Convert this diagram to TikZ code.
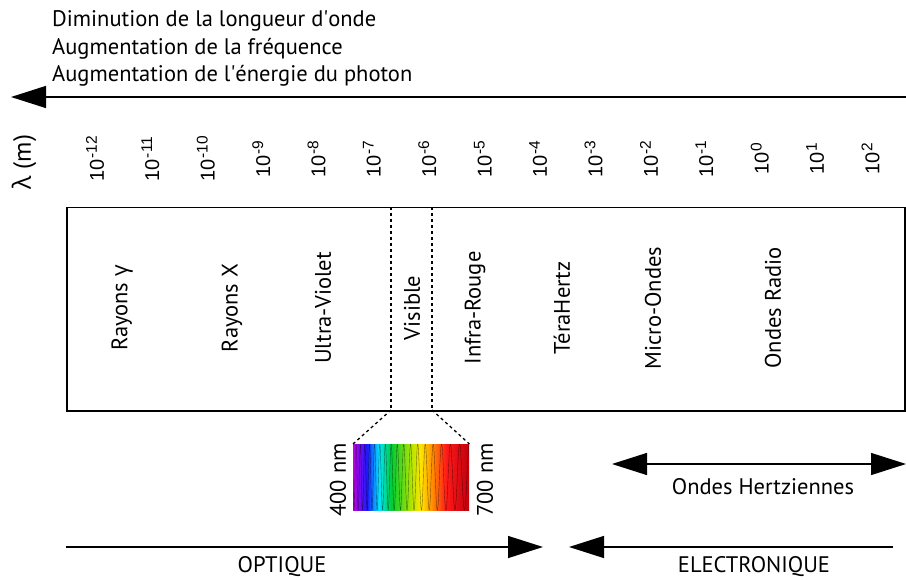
\documentclass[tikz,border=0pt]{standalone}
\usepackage{fontspec}
\setmainfont{PT Sans}
\newfontfamily\grk{Open Sans}
\newfontfamily\numf{Liberation Sans}
\usetikzlibrary{arrows.meta}
\tikzset{
  lbl/.style={font=\fontsize{22.5}{26}\selectfont, inner sep=0pt},
  rlbl/.style={lbl, rotate=90},
  expo/.style={rotate=90, inner sep=0pt},
  bigarrow/.style={-{Triangle[length=35pt,width=22pt]}, line width=1.3pt},
  dbigarrow/.style={{Triangle[length=35pt,width=22pt]}-{Triangle[length=35pt,width=22pt]}, line width=1.3pt},
  dashline/.style={line width=1.3pt, dash pattern=on 3pt off 3pt},
}
\newcommand{\tenpow}[1]{{\numf\fontsize{20}{22}\selectfont 10\hspace{1pt}\raisebox{7pt}{\fontsize{15.5}{16}\selectfont #1}}}
\pgfdeclarehorizontalshading{visspec}{100bp}{
  color(0bp)=(violet);
  color(25bp)=(rgb,1:red,0.75;green,0;blue,0.9);
  color(31bp)=(rgb,1:red,0.1;green,0.1;blue,1);
  color(36bp)=(rgb,1:red,0;green,0.9;blue,1);
  color(41.5bp)=(rgb,1:red,0;green,0.8;blue,0.2);
  color(50bp)=(rgb,1:red,0.7;green,0.9;blue,0);
  color(54bp)=(rgb,1:red,1;green,0.9;blue,0);
  color(59bp)=(rgb,1:red,1;green,0.55;blue,0);
  color(65bp)=(rgb,1:red,1;green,0.1;blue,0.1);
  color(75bp)=(rgb,1:red,0.75;green,0;blue,0.05);
  color(100bp)=(rgb,1:red,0.75;green,0;blue,0.05)}
\begin{document}
\begin{tikzpicture}[x=1pt,y=-1pt]
\useasboundingbox (0,0) rectangle (906,580);

% top texts
\node[lbl, anchor=base west] (t1) at (52,27) {Diminution de la longueur d\textquotesingle{}onde};
\node[lbl, anchor=base west] (t2) at (52,55) {Augmentation de la fréquence};
\node[lbl, anchor=base west] (t3) at (52,82) {Augmentation de l\textquotesingle{}énergie du photon};

% top arrow
\coordinate (topR) at (906,97);
\coordinate (topL) at (11,97);
\draw[bigarrow] (topR) -- (topL);

% lambda
\node[rlbl, font=\fontsize{25}{28}\selectfont] (lam) at (24,162) {{\grk λ} (m)};

% exponents
\foreach \e [count=\k from 0] in {-12,-11,-10,-9,-8,-7,-6,-5,-4,-3,-2,-1,0,1,2}{
  \node[expo] (e\k) at ({95+55.4*\k},159) {\tenpow{\e}};
}

% main box
\node[draw, line width=1.5pt, minimum width=838pt, minimum height=203pt, inner sep=0pt, anchor=north west] (box) at (66,207) {};
\coordinate (d1t) at (391,207);
\coordinate (d1b) at (391,410);
\coordinate (d2t) at (432,207);
\coordinate (d2b) at (432,410);
\draw[dashline] (d1t) -- (d1b);
\draw[dashline] (d2t) -- (d2b);

% categories
\node[rlbl] (c1) at (122,308) {Rayons {\grk γ}};
\node[rlbl] (c2) at (232,308) {Rayons X};
\node[rlbl] (c3) at (323,308) {Ultra-Violet};
\node[rlbl] (c4) at (412,308) {Visible};
\node[rlbl] (c5) at (475,308) {Infra-Rouge};
\node[rlbl] (c6) at (562,308) {TéraHertz};
\node[rlbl] (c7) at (653,308) {Micro-Ondes};
\node[rlbl] (c8) at (773,308) {Ondes Radio};

% visible spectrum
\node[shading=visspec, minimum width=116pt, minimum height=66pt, inner sep=0pt, anchor=north west] (spec) at (353,444) {};
\begin{scope}
\clip (spec.north west) rectangle (spec.south east);
\draw[line width=0.4pt, black, opacity=0.5] plot[domain=0:116, samples=700, smooth] ({353+\x}, {477+33*sin(deg(2*pi*19.33*ln((4+6*\x/116)/4)))});
\end{scope}
\draw[dashline] (d1b) -- (spec.north west);
\draw[dashline] (d2b) -- (spec.north east);
\node[rlbl] (n400) at (338,480) {400 nm};
\node[rlbl] (n700) at (485,480) {700 nm};

% Ondes hertziennes
\coordinate (hzL) at (612,464);
\coordinate (hzR) at (906,464);
\draw[dbigarrow] (hzL) -- (hzR);
\node[lbl] (hz) at (763,487) {Ondes Hertziennes};

% optique / electronique
\coordinate (opL) at (66,547);
\coordinate (opR) at (543,547);
\draw[bigarrow] (opL) -- (opR);
\node[lbl] (op) at (282,567) {OPTIQUE};
\coordinate (elR) at (893,547);
\coordinate (elL) at (569,547);
\draw[bigarrow] (elR) -- (elL);
\node[lbl] (el) at (754,567) {ELECTRONIQUE};
\end{tikzpicture}
\end{document}
